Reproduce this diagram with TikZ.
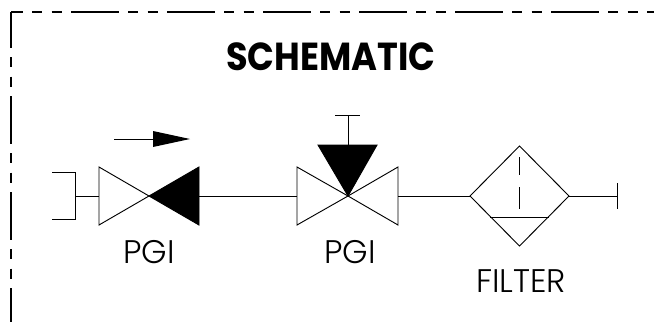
\documentclass[tikz,border=0pt]{standalone}
\usepackage{fontspec}
\newfontfamily\labelfont{Poppins Light}
\newfontfamily\titlefont{Poppins}[FakeStretch=0.9]
\tikzset{
  sym/.style={line width=0.7pt, line join=miter},
  solidfill/.style={sym, fill=black},
  frameline/.style={line width=0.8pt, dash pattern=on 36pt off 6.9pt on 7.5pt off 7.1pt on 7.5pt off 7pt},
  partlabel/.style={font=\labelfont\fontsize{24.5}{24.5}\selectfont, inner sep=0pt, anchor=base}
}
\begin{document}
\begin{tikzpicture}[x=0.75pt, y=-0.75pt]
  \useasboundingbox (0,0) rectangle (654,322);

  % frame
  \draw [frameline, dash phase=27pt] (11,12) -- (654,12);
  \draw [frameline, dash phase=9pt] (11,12) -- (11,322);

  \node [font=\titlefont\bfseries\fontsize{29.3}{29.3}\selectfont, inner sep=0pt, anchor=base] (title) at (331,70) {SCHEMATIC};

  % points on the line
  \coordinate (cap) at (75,196);
  \coordinate (v1l) at (99,196);
  \coordinate (v1c) at (149,196);
  \coordinate (v1r) at (199,196);
  \coordinate (v2l) at (297,196);
  \coordinate (v2c) at (348,196);
  \coordinate (v2r) at (398,196);
  \coordinate (fl) at (470,196);
  \coordinate (fr) at (569,196);
  \coordinate (stop) at (617,196);

  % end cap
  \draw [sym] (52,172) -| (75,219) -- (52,219);
  \draw [sym] (cap) -- (v1l);

  % first valve
  \draw [sym] (v1c) -- (99,167) -- (99,225) -- cycle;
  \draw [solidfill] (v1c) -- (199,167) -- (199,225) -- cycle;
  \draw [sym] (v1r) -- (v2l);

  % flow arrow
  \coordinate (flowa) at (114,139);
  \coordinate (flowb) at (153,139);
  \draw [sym] (flowa) -- (flowb);
  \fill (flowb) ++(0,-8) -- (190,139) -- (153,147) -- cycle;

  % second valve
  \draw [sym] (v2c) -- (297,167) -- (297,225) -- cycle;
  \draw [sym] (v2c) -- (398,167) -- (398,225) -- cycle;
  \draw [solidfill] (v2c) -- (318,145) -- (377,145) -- cycle;
  \coordinate (stem) at (348,115);
  \draw [sym] (348,145) -- (stem);
  \draw [sym] (335,115) -- (360,115);
  \draw [sym] (v2r) -- (fl);

  % filter
  \draw [sym] (fl) -- (519.5,146) -- (fr) -- (519.5,246) -- cycle;
  \draw [sym] (490,217) -- (549,217);
  \draw [sym] (519.5,157) -- (519.5,175);
  \draw [sym] (519.5,187) -- (519.5,209);
  \draw [sym] (fr) -- (stop);
  \draw [sym] (617,183) -- (617,209);

  % labels
  \node [partlabel] (pgia) at (149,263) {PGI};
  \node [partlabel] (pgib) at (350,263) {PGI};
  \node [partlabel] (filt) at (521,292) {FILTER};
\end{tikzpicture}
\end{document}
